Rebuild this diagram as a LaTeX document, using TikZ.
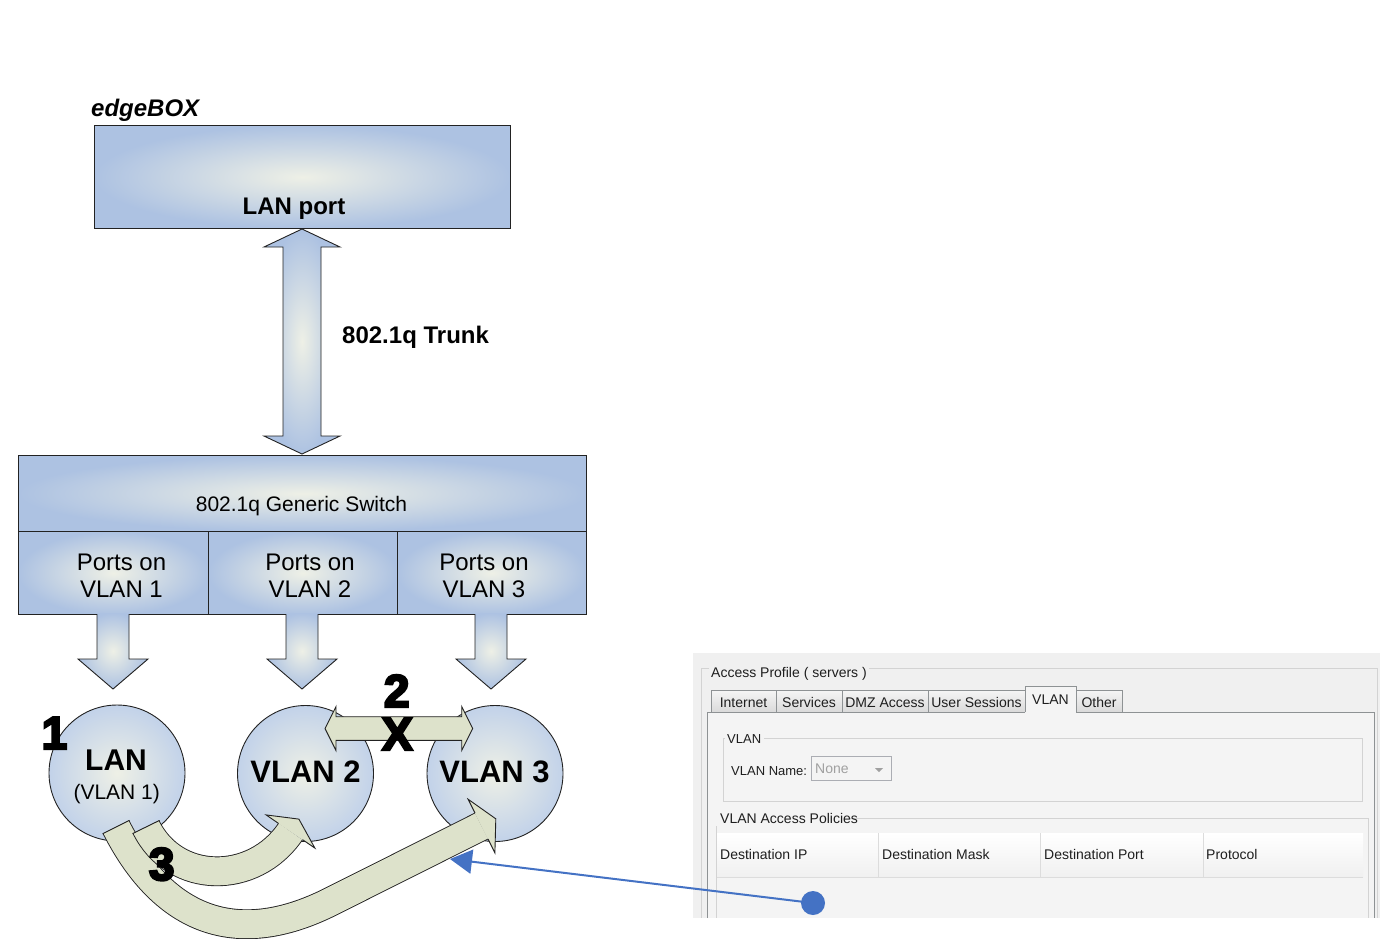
\documentclass[tikz,border=0pt]{standalone}
\usepackage{fontspec}
\setmainfont{Liberation Sans}
\newfontfamily\heavyfont[BoldFeatures={FakeBold=5}]{Liberation Sans}
\usetikzlibrary{arrows.meta}
\definecolor{bluedge}{HTML}{ADC2E2}
\definecolor{bluein}{HTML}{EEF0E6}
\definecolor{circedge}{HTML}{C2D2E9}
\definecolor{olivef}{HTML}{DDE2CB}
\definecolor{lineblue}{HTML}{4472C4}
\definecolor{panelbg}{HTML}{F0F0F0}
\definecolor{paneltab}{HTML}{F4F4F4}
\definecolor{tabline}{HTML}{8E9294}
\definecolor{grpline}{HTML}{D3D3D3}
\definecolor{scrtxt}{HTML}{1E1E1E}
\definecolor{nonegray}{HTML}{A0A0A0}
\definecolor{combob}{HTML}{ABADB3}
\definecolor{tabtop}{HTML}{F5F5F5}
\definecolor{tabbot}{HTML}{DADADA}
\definecolor{hdrbot}{HTML}{F0F0F0}
\definecolor{hdrsep}{HTML}{DCDCDC}
\definecolor{outl}{HTML}{222222}
\newcommand\myfs[1]{\fontsize{#1}{#1}\selectfont}
\begin{document}
\begin{tikzpicture}[x=1pt,y=-1pt,line join=miter]
\useasboundingbox (0,0) rectangle (1380,938);
\tikzset{
  bluebox/.style={draw=outl,line width=0.9pt,inner sep=0pt,shading=radial,inner color=bluein,outer color=bluedge},
  arrowshade/.style={shading=radial,inner color=bluein,outer color=bluedge},
  outline/.style={draw=outl,line width=0.9pt},
  vcirc/.style={circle,draw=outl,line width=0.9pt,minimum size=136pt,inner sep=0pt,shading=radial,inner color=bluein,outer color=circedge},
  band/.style={draw=outl,line width=0.9pt,double=olivef,double distance=28pt,line cap=butt},
  lbl/.style={inner sep=0pt,anchor=base,text=black},
  bignum/.style={inner sep=0pt,anchor=base,font=\heavyfont\bfseries\myfs{46}},
  scr/.style={inner sep=0pt,anchor=base west,text=scrtxt,font=\myfs{14}},
  gline/.style={draw=grpline,line width=1pt},
  tabbox/.style={draw=tabline,line width=0.8pt,top color=tabtop,bottom color=tabbot},
}
% ---------------- screenshot panel ----------------
\fill[panelbg] (693,653) rectangle (1380,918);
\draw[gline] (709,668) -- (701.5,668) -- (701.5,918);
\draw[gline] (869,668) -- (1377,668) -- (1377,918);
\node[scr] (aptitle) at (711,677) {Access Profile ( servers )};
\fill[paneltab] (707,712) rectangle (1374,918);
\draw[draw=tabline,line width=0.8pt] (707,918) -- (707,712) -- (1374,712) -- (1374,918);
\foreach \a/\b/\t [count=\i] in {711/776/Internet,776/842/Services,842/928/DMZ Access,928/1025/User Sessions,1076/1122/Other}{
  \draw[tabbox] (\a,712) rectangle (\b,690);
  \node[scr,anchor=base] (tab\i) at ({(\a+\b)/2},707) {\t};
}
\fill[paneltab] (1025,686) rectangle (1076,713);
\draw[draw=tabline,line width=0.8pt] (1025,712) -- (1025,686) -- (1076,686) -- (1076,712);
\node[scr,anchor=base] (tabvlan) at (1050.5,704) {VLAN};
% VLAN group
\draw[gline] (725,738) -- (723,738) -- (723,801) -- (1362,801) -- (1362,738) -- (764,738);
\node[scr,font=\myfs{13}] (vlangrp) at (727,743) {VLAN};
\node[scr,font=\myfs{13}] (vlanname) at (731,775) {VLAN Name:};
\node[draw=combob,fill=paneltab,line width=0.8pt,minimum width=80pt,minimum height=24pt,anchor=north west,inner sep=0pt] (combo) at (811,756) {};
\node[scr,text=nonegray] (none) at (815,773) {None};
\fill[nonegray] (875,768) -- (883,768) -- (879,772) -- cycle;
% access policies group
\draw[gline] (849,818) -- (1368,818) -- (1368,918);
\draw[gline] (716,826) -- (716,918);
\node[scr] (vlanpol) at (720,823) {VLAN Access Policies};
\shade[top color=white,bottom color=hdrbot] (717,833) rectangle (1363,877);
\draw[hdrsep,line width=1pt] (717,877) -- (1363,877);
\foreach \x in {878,1040,1203}{\draw[hdrsep,line width=1pt] (\x,833) -- (\x,877);}
\node[scr] (hip) at (720,859) {Destination IP};
\node[scr] (hmask) at (882,859) {Destination Mask};
\node[scr] (hport) at (1044,859) {Destination Port};
\node[scr] (hproto) at (1206,859) {Protocol};
% ---------------- edgeBOX ----------------
\node[bluebox,anchor=north west,minimum width=416pt,minimum height=103pt] (edgebox) at (94,125) {};
\node[lbl,anchor=base west,font=\bfseries\itshape\myfs{24}] (edgetitle) at (91,116) {edgeBOX};
\node[lbl,font=\bfseries\myfs{24}] (lanport) at (294,214) {LAN port};
% trunk arrow
\path[arrowshade] (302,229) -- (340,247) -- (321,247) -- (321,436) -- (340,436) -- (302,454) -- (264,436) -- (283,436) -- (283,247) -- (264,247) -- cycle;
\draw[outline] (302,229) -- (340,247) -- (321,247) -- (321,436) -- (340,436) -- (302,454) -- (264,436) -- (283,436) -- (283,247) -- (264,247) -- cycle;
\node[lbl,anchor=base west,font=\bfseries\myfs{24}] (trunk) at (342,343) {802.1q Trunk};
% switch
\node[bluebox,anchor=north west,minimum width=568pt,minimum height=76pt] (switch) at (18,455) {};
\node[lbl,font=\myfs{21}] (switcht) at (301.5,511.5) {802.1q Generic Switch};
\node[bluebox,anchor=north west,minimum width=190pt,minimum height=83pt] (p1) at (18,531) {};
\node[bluebox,anchor=north west,minimum width=189pt,minimum height=83pt] (p2) at (208,531) {};
\node[bluebox,anchor=north west,minimum width=189pt,minimum height=83pt] (p3) at (397,531) {};
\foreach \tx/\n in {121.5/1,310/2,484/3}{
  \node[lbl,font=\myfs{24}] (pa\n) at (\tx,570) {Ports on};
  \node[lbl,font=\myfs{24}] (pb\n) at (\tx,597) {VLAN \n};
}
\foreach \c in {113,302,491}{
  \path[arrowshade] ({\c-16},613) -- ({\c+16},613) -- ({\c+16},659) -- ({\c+35},659) -- (\c,689) -- ({\c-35},659) -- ({\c-16},659) -- cycle;
  \draw[outline] ({\c+16},614) -- ({\c+16},659) -- ({\c+35},659) -- (\c,689) -- ({\c-35},659) -- ({\c-16},659) -- ({\c-16},614);
}
% circles
\node[vcirc] (lan) at (117,773) {};
\node[vcirc] (vlan2) at (305.5,773.5) {};
\node[vcirc] (vlan3) at (495,773.5) {};
\node[lbl,font=\bfseries\myfs{30}] (lant) at (116,770) {LAN};
\node[lbl,font=\myfs{21}] (lansub) at (116.7,799) {(VLAN 1)};
\node[lbl,font=\bfseries\myfs{31}] (v2t) at (305.6,782) {VLAN 2};
\node[lbl,font=\bfseries\myfs{31}] (v3t) at (494.6,782) {VLAN 3};
% band B (LAN -> VLAN 3)
\draw[band] (116,827) .. controls (163.3,920.5) and (236.1,948.9) .. (330,902) -- (481.5,826);
\draw[outline] (129.4,820.3) -- (102.6,833.8);
\fill[olivef] (475,813) -- (468.1,799.2) -- (495.8,818.8) -- (494.9,852.8) -- (488,839) -- cycle;
\draw[outline] (475,813) -- (468.1,799.2) -- (495.8,818.8) -- (494.9,852.8) -- (488,839);
% band A (LAN -> VLAN 2)
\draw[band] (146,827) .. controls (174.6,885.3) and (254,885.3) .. (290.5,831.5);
\draw[outline] (159.5,820.4) -- (132.5,833.6);
\fill[olivef] (278.5,823.4) -- (266.1,814.9) -- (298.9,819.1) -- (314.9,848.1) -- (302.5,839.6) -- cycle;
\draw[outline] (278.5,823.4) -- (266.1,814.9) -- (298.9,819.1) -- (314.9,848.1) -- (302.5,839.6);
% horizontal double arrow
\filldraw[fill=olivef,outline] (325,728.5) -- (336,706.5) -- (336,716.7) -- (461.7,716.7) -- (461.7,706.5) -- (472.7,728.5) -- (461.7,750.5) -- (461.7,740.3) -- (336,740.3) -- (336,750.5) -- cycle;
% big labels
\node[bignum] (n1) at (54.5,749) {1};
\node[bignum] (n2) at (396.7,707) {2};
\node[bignum] (nx) at (397.3,750) {X};
\node[bignum] (n3) at (161.7,880) {3};
% blue pointer
\node[circle,fill=lineblue,minimum size=24pt,inner sep=0pt] (dot) at (813,903) {};
\coordinate (bluetip) at (450,859);
\draw[lineblue,line width=2pt,-{Triangle[length=22pt,width=24pt]}] (dot.center) -- (bluetip);
\end{tikzpicture}
\end{document}
